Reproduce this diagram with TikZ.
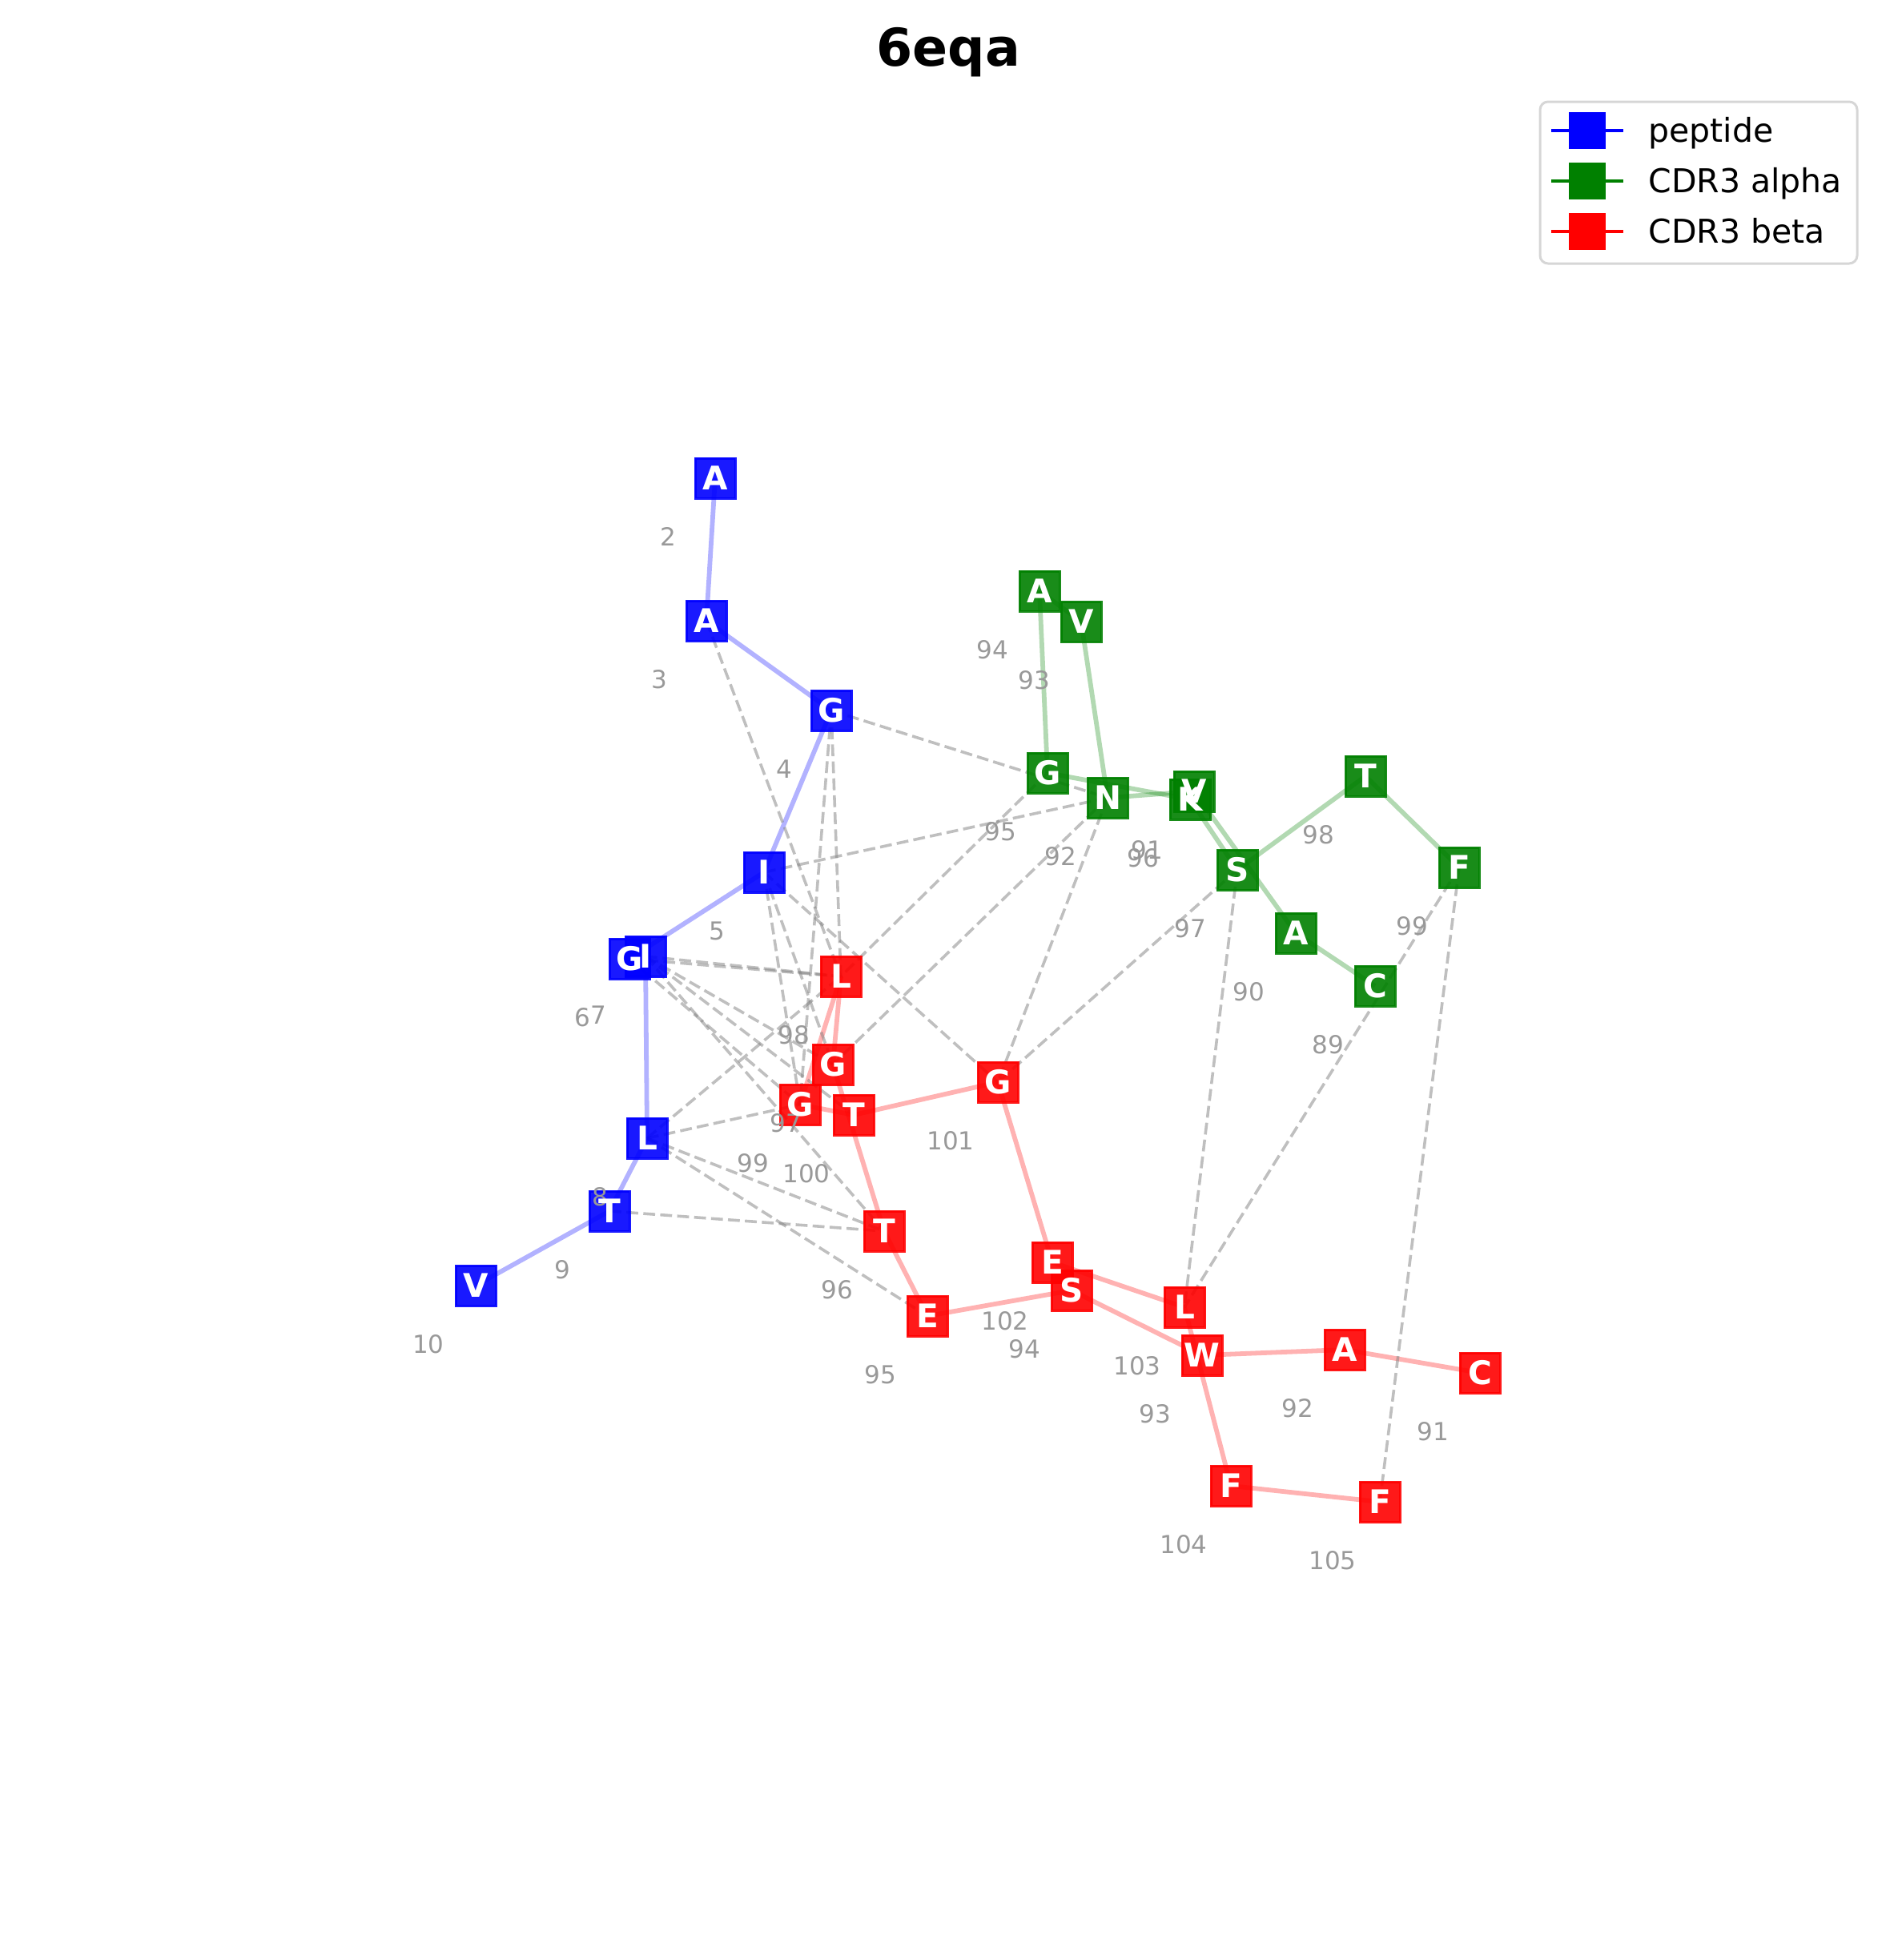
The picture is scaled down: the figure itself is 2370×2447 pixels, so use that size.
\documentclass[tikz,border=0pt]{standalone}
\usepackage{fontspec}
\setmainfont{DejaVu Sans}
\pgfdeclarelayer{solidl}
\pgfdeclarelayer{dashl}
\pgfsetlayers{solidl,dashl,main}
\definecolor{pep}{RGB}{0,0,255}
\definecolor{cda}{RGB}{0,128,0}
\definecolor{cdb}{RGB}{255,0,0}
\definecolor{cgray}{RGB}{128,128,128}
\definecolor{idxgray}{RGB}{153,153,153}
\definecolor{legframe}{RGB}{214,214,214}
\tikzset{
  resbox/.style={rectangle, draw=#1, fill=#1, opacity=0.9, minimum size=25pt, inner sep=0pt, line width=1.5pt},
  resletter/.style={font=\bfseries\fontsize{20.3}{20.3}\selectfont, text=white, inner sep=0pt},
  idxlabel/.style={font=\fontsize{15.5}{15.5}\selectfont, text=idxgray, inner sep=0pt},
  chain/.style={line width=2.9pt, draw=#1, draw opacity=0.3},
  contact/.style={line width=1.8pt, draw=cgray, draw opacity=0.5, dash pattern=on 7.4pt off 3.2pt},
  legtext/.style={font=\fontsize{20.5}{20.5}\selectfont, anchor=base west, inner sep=0pt}
}
\begin{document}
\begin{tikzpicture}[x=0.5pt,y=-0.5pt]
\useasboundingbox (0,0) rectangle (2370,2447);
\def\reslist{p2/893/597/A/pep/2, p3/882/775/A/pep/3, p4/1038/887/G/pep/4, p5/954/1089/I/pep/5, p6/786/1197/G/pep/6, p7/806/1194/I/pep/7, p8/808/1421/L/pep/8, p9/761/1512/T/pep/9, p10/594/1605/V/pep/10,
a89/1717/1231/C/cda/89, a90/1618/1165/A/cda/90, a91/1491/988/V/cda/91, a92/1383/996/N/cda/92, a94/1298/738/A/cda/94, a93/1350/776/V/cda/93, a95/1308/965/G/cda/95, a96/1486/998/K/cda/96, a97/1545/1086/S/cda/97, a98/1705/969/T/cda/98, a99/1822/1083/F/cda/99,
b91/1848/1714/C/cdb/91, b92/1679/1685/A/cdb/92, b93/1501/1692/W/cdb/93, b95/1158/1643/E/cdb/95, b96/1104/1537/T/cdb/96, b97/1040/1329/G/cdb/97, b98/1050/1219/L/cdb/98, b99/999/1379/G/cdb/99, b100/1066/1392/T/cdb/100, b101/1246/1351/G/cdb/101, b102/1314/1576/E/cdb/102, b94/1338/1611/S/cdb/94, b103/1479/1632/L/cdb/103, b104/1537/1855/F/cdb/104, b105/1723/1875/F/cdb/105}
% boxes
\foreach \n/\x/\y/\l/\c/\i in \reslist {
  \node[resbox=\c] (\n) at (\x,\y) {};
}
% index labels
\foreach \n/\x/\y/\l/\c/\i in \reslist {
  \node[idxlabel] (lab\n) at ({\x-59},{\y+73}) {\i};
}
% letters
\foreach \n/\x/\y/\l/\c/\i in \reslist {
  \node[resletter] (let\n) at (\x,\y) {\l};
}
% chains
\begin{pgfonlayer}{solidl}
\foreach \a/\b in {p2/p3, p3/p4, p4/p5, p5/p6, p6/p7, p7/p8, p8/p9, p9/p10}
  \draw[chain=pep] (\a.center) -- (\b.center);
\foreach \a/\b in {a89/a90, a90/a91, a91/a92, a92/a93, a93/a94, a94/a95, a95/a96, a96/a97, a97/a98, a98/a99}
  \draw[chain=cda] (\a.center) -- (\b.center);
\foreach \a/\b in {b91/b92, b92/b93, b93/b94, b94/b95, b95/b96, b96/b97, b97/b98, b98/b99, b99/b100, b100/b101, b101/b102, b102/b103, b103/b104, b104/b105}
  \draw[chain=cdb] (\a.center) -- (\b.center);
\end{pgfonlayer}
% contacts
\begin{pgfonlayer}{dashl}
\foreach \a/\b in {p3/b98, p4/a92, p4/b98, p4/b99, p5/a92, p5/b99, p5/b97, p5/b101, p6/b98, p7/b98, p7/b97, p6/b99, p7/b100, p7/b96, p8/b98, p8/b99, p8/b96, p8/b95, p9/b96, a95/b98, a92/b97, a92/b101, a97/b101, a97/b103, a99/b103, a99/b105}
  \draw[contact] (\a.center) -- (\b.center);
\end{pgfonlayer}
% title
\node[font=\bfseries\fontsize{32.5}{32.5}\selectfont, anchor=base, inner sep=0pt] (title) at (1184,82) {6eqa};
% legend
\node[draw=legframe, line width=1.5pt, fill=white, fill opacity=0.8, rounded corners=5pt, minimum width=198pt, minimum height=101pt, inner sep=0pt] (legend) at (2121,228) {};
\foreach \yy/\c/\t [count=\k] in {163/pep/peptide, 226/cda/CDR3 alpha, 289/cdb/CDR3 beta} {
  \coordinate (ls\k) at (1937,\yy);
  \coordinate (le\k) at (2027,\yy);
  \draw[draw=\c, line width=2pt] (ls\k) -- (le\k);
  \node[rectangle, fill=\c, minimum size=23pt, inner sep=0pt] (lm\k) at (1982,\yy) {};
  \node[legtext] (lt\k) at (2058,{\yy+14}) {\t};
}
\end{tikzpicture}
\end{document}
